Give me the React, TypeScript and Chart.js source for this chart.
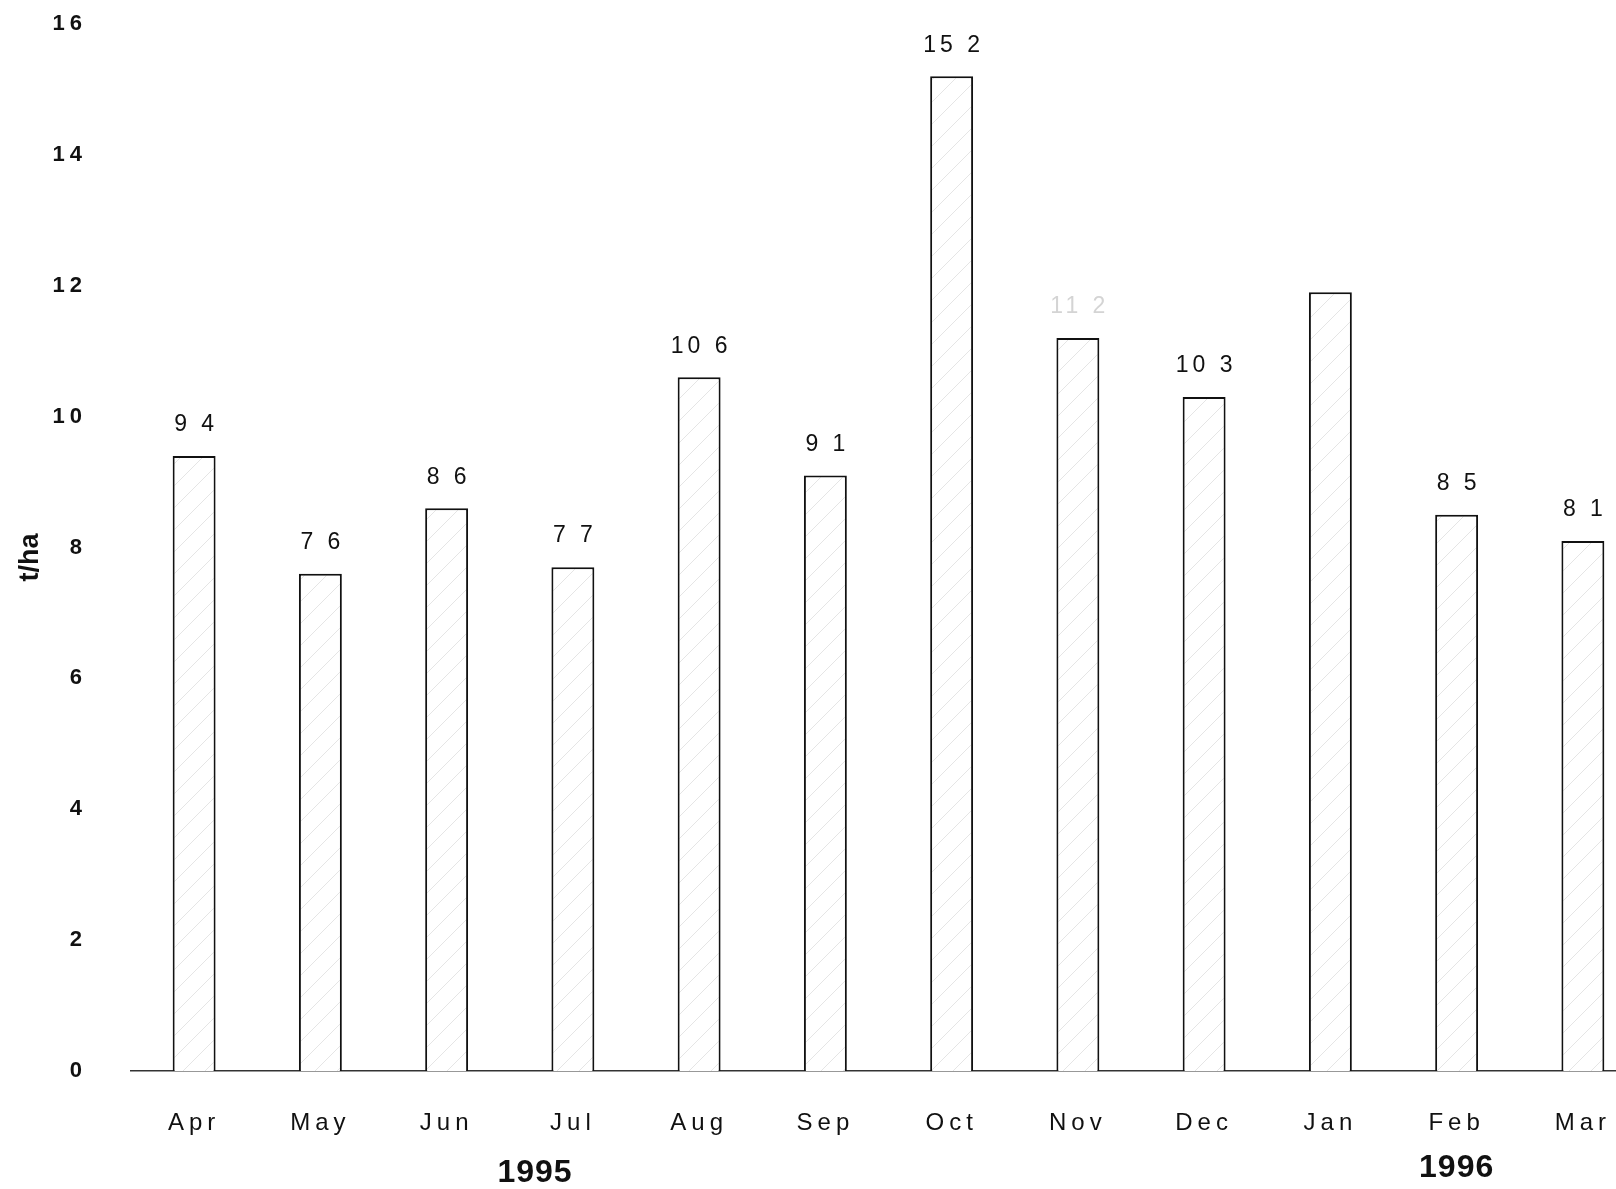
import React, { useEffect, useRef } from "react";
import { Chart, registerables } from "chart.js";
Chart.register(...registerables);

const months = ["Apr", "May", "Jun", "Jul", "Aug", "Sep", "Oct", "Nov", "Dec", "Jan", "Feb", "Mar"];
const yieldValues = [9.4, 7.6, 8.6, 7.7, 10.6, 9.1, 15.2, 11.2, 10.3, 11.9, 8.5, 8.1];
const valueLabels = ["9 4", "7 6", "8 6", "7 7", "10 6", "9 1", "15 2", "11 2", "10 3", "", "8 5", "8 1"];
const faintLabel = [false, false, false, false, false, false, false, true, false, false, false, false];
const yearLabels = ["1995", "1996"];
const yearAt = [2.7, 10];
const yTitle = "t/ha";
const yMin = 0;
const yMax = 16;
const yStep = 2;

function makePattern(): CanvasPattern | string {
  const c = document.createElement("canvas");
  c.width = 22;
  c.height = 22;
  const g = c.getContext("2d");
  if (!g) return "#fff";
  g.fillStyle = "#fff";
  g.fillRect(0, 0, 22, 22);
  g.strokeStyle = "rgba(0,0,0,0.10)";
  g.lineWidth = 1;
  g.beginPath();
  g.moveTo(0, 22);
  g.lineTo(22, 0);
  g.stroke();
  const p = g.createPattern(c, "repeat");
  return p || "#fff";
}

export default function App() {
  const ref = useRef<HTMLCanvasElement | null>(null);
  useEffect(() => {
    if (!ref.current) return;
    const spacing = {
      id: "spacing",
      beforeDraw(chart: any) {
        chart.ctx.letterSpacing = "5px";
      },
    };
    const labelsPlugin = {
      id: "barLabels",
      afterDatasetsDraw(chart: any) {
        const ctx = chart.ctx;
        const meta = chart.getDatasetMeta(0);
        ctx.save();
        ctx.font = "23px 'Liberation Sans', Arial, sans-serif";
        ctx.letterSpacing = "4px";
        ctx.textAlign = "center";
        ctx.textBaseline = "middle";
        meta.data.forEach((bar: any, i: number) => {
          const t = valueLabels[i];
          if (!t) return;
          ctx.fillStyle = faintLabel[i] ? "#d4d4d4" : "#111";
          ctx.fillText(t, bar.x + 2, bar.y - 31);
        });
        const xs = chart.scales.x;
        ctx.font = "bold 32px 'Liberation Sans Narrow', 'Liberation Sans', Arial, sans-serif";
        ctx.letterSpacing = "1px";
        ctx.fillStyle = "#111";
        yearLabels.forEach((t, i) => {
          const x = xs.getPixelForValue(yearAt[i]);
          ctx.fillText(t, x, chart.chartArea.bottom + (i === 0 ? 102 : 97));
        });
        // y axis title
        const ca = chart.chartArea;
        ctx.letterSpacing = "0px";
        ctx.font = "bold 27px 'Liberation Sans', Arial, sans-serif";
        ctx.translate(31, (ca.top + ca.bottom) / 2 + 10);
        ctx.rotate(-Math.PI / 2);
        ctx.fillText(yTitle, 0, 0);
        ctx.restore();
      },
    };
    const chart = new Chart(ref.current, {
      type: "bar",
      data: {
        labels: months,
        datasets: [
          {
            data: yieldValues,
            backgroundColor: makePattern() as any,
            borderColor: "#111",
            borderWidth: 2,
            borderSkipped: "bottom",
            categoryPercentage: 1,
            barPercentage: 0.34,
          },
        ],
      },
      options: {
        responsive: false,
        maintainAspectRatio: false,
        devicePixelRatio: 1,
        animation: false,
        layout: { padding: { top: 24, left: 0, right: 0, bottom: 0 } },
        plugins: { legend: { display: false }, tooltip: { enabled: false } },
        scales: {
          x: {
            offset: true,
            grid: { display: false, drawTicks: false },
            border: { display: true, color: "#333", width: 1.5 },
            ticks: {
              color: "#111",
              padding: 38,
              font: { size: 24, family: "'Liberation Sans', Arial, sans-serif" },
            },
            afterFit(scale: any) {
              scale.height = 118;
            },
          },
          y: {
            min: yMin,
            max: yMax,
            grid: { display: false, drawTicks: true, tickLength: 44 },
            border: { display: false },
            ticks: {
              stepSize: yStep,
              color: "#111",
              padding: 0,
              font: { size: 22, weight: "bold", family: "'Liberation Sans', Arial, sans-serif" },
            },
            afterFit(scale: any) {
              scale.width = 131;
            },
          },
        },
      },
      plugins: [spacing, labelsPlugin],
    });
    return () => chart.destroy();
  }, []);
  return (
    <div
      style={{
        position: "fixed",
        left: 0,
        top: 0,
        width: 1616,
        height: 1189,
        overflow: "hidden",
        background: "#fff",
      }}
    >
      <canvas ref={ref} width={1646} height={1189} style={{ display: "block" }} />
    </div>
  );
}
